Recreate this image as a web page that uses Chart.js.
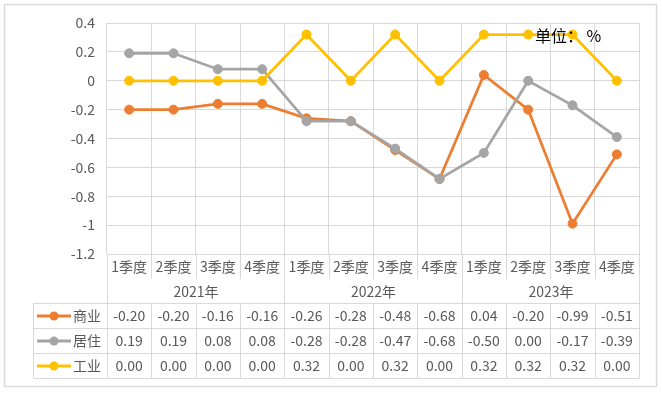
<!DOCTYPE html>
<html><head><meta charset="utf-8">
<script src="https://cdn.jsdelivr.net/npm/chart.js@4/dist/chart.umd.min.js"></script>
<style>html,body{margin:0;padding:0;background:#fff;}canvas{display:block;}</style>
</head><body>
<canvas id="c" width="662" height="393"></canvas>
<script>
const quarters = ['1季度','2季度','3季度','4季度','1季度','2季度','3季度','4季度','1季度','2季度','3季度','4季度'];
const years = ['2021年','2022年','2023年'];
const seriesNames = ['商业','居住','工业'];
const commerce = [-0.20,-0.20,-0.16,-0.16,-0.26,-0.28,-0.48,-0.68,0.04,-0.20,-0.99,-0.51];
const residence = [0.19,0.19,0.08,0.08,-0.28,-0.28,-0.47,-0.68,-0.50,0.00,-0.17,-0.39];
const industry = [0.00,0.00,0.00,0.00,0.32,0.00,0.32,0.00,0.32,0.32,0.32,0.00];
const colors = ['#ED7D31','#A5A5A5','#FFC000'];
const unitText = '单位： %';

const FONT = '"Noto Sans CJK SC", "Noto Sans", sans-serif';
const GRID = '#D9D9D9';
const TXT = '#595959';
const allSeries = [commerce, residence, industry];

const tablePlugin = {
  id: 'tablePlugin',
  beforeDraw(chart) {
    const ctx = chart.ctx;
    ctx.save();
    ctx.fillStyle = '#fff';
    ctx.fillRect(0,0,chart.width,chart.height);
    ctx.strokeStyle = '#D9D9D9';
    ctx.lineWidth = 1.5;
    ctx.strokeRect(4.5,4.5,652,382);
    ctx.restore();
  },
  afterDatasetsDraw(chart) {
    const ctx = chart.ctx;
    ctx.save();
    ctx.font = '16px ' + FONT;
    ctx.fillStyle = '#000';
    ctx.textBaseline = 'middle';
    ctx.textAlign = 'left';
    ctx.fillText(unitText, 535, 36);
    ctx.restore();
  },
  afterDraw(chart) {
    const ctx = chart.ctx;
    const x = chart.scales.x;
    const area = chart.chartArea;
    const n = quarters.length;
    const w = (area.right - area.left) / n;
    const bnd = i => Math.round(area.left + i * w) + 0.5;
    const ctr = i => x.getPixelForValue(i);
    const catTop = area.bottom, catBot = catTop + 25;
    const yearBot = catBot + 24;
    const rowH = 25;
    const tableLeft = 33.5;
    ctx.save();
    ctx.strokeStyle = GRID;
    ctx.lineWidth = 1;
    ctx.beginPath();
    // category row vertical lines
    for (let i = 0; i <= n; i++) {
      ctx.moveTo(bnd(i), catTop); ctx.lineTo(bnd(i), catBot);
    }
    // year row boundaries
    for (let g = 0; g <= years.length; g++) {
      ctx.moveTo(bnd(g*4), catBot); ctx.lineTo(bnd(g*4), yearBot);
    }
    // table grid
    for (let r = 0; r <= 3; r++) {
      const yy = Math.round(yearBot + r*rowH) + 0.5;
      ctx.moveTo(tableLeft, yy); ctx.lineTo(bnd(n), yy);
    }
    const tb = yearBot + 3*rowH;
    ctx.moveTo(tableLeft, yearBot); ctx.lineTo(tableLeft, tb);
    for (let i = 0; i <= n; i++) {
      ctx.moveTo(bnd(i), yearBot); ctx.lineTo(bnd(i), tb);
    }
    ctx.stroke();

    ctx.fillStyle = TXT;
    ctx.font = '14px ' + FONT;
    ctx.textAlign = 'center';
    ctx.textBaseline = 'middle';
    for (let i = 0; i < n; i++) ctx.fillText(quarters[i], ctr(i), catTop + 13);
    for (let g = 0; g < years.length; g++) ctx.fillText(years[g], (bnd(g*4)+bnd(g*4+4))/2, catBot + 13);
    for (let r = 0; r < 3; r++) {
      const cy = yearBot + r*rowH + rowH/2 + 0.5;
      for (let i = 0; i < n; i++) ctx.fillText(allSeries[r][i].toFixed(2), ctr(i), cy);
      // legend key
      ctx.strokeStyle = colors[r];
      ctx.lineWidth = 3;
      ctx.beginPath(); ctx.moveTo(37, cy); ctx.lineTo(71, cy); ctx.stroke();
      ctx.fillStyle = colors[r];
      ctx.beginPath(); ctx.arc(54, cy, 4.5, 0, Math.PI*2); ctx.fill();
      ctx.fillStyle = TXT;
      ctx.textAlign = 'left';
      ctx.fillText(seriesNames[r], 73, cy);
      ctx.textAlign = 'center';
    }
    ctx.restore();
  }
};

const mk = (label, data, color, order) => ({
  label, data, borderColor: color, backgroundColor: color,
  borderWidth: 2.75, pointRadius: 4.5, pointBorderWidth: 1,
  pointBackgroundColor: color, pointBorderColor: color,
  tension: 0, order, fill: false
});

new Chart(document.getElementById('c'), {
  type: 'line',
  data: {
    labels: quarters,
    datasets: [
      mk(seriesNames[0], commerce, colors[0], 3),
      mk(seriesNames[1], residence, colors[1], 2),
      mk(seriesNames[2], industry, colors[2], 1)
    ]
  },
  options: {
    responsive: false,
    animation: false,
    layout: { padding: { left: 0, top: 23, right: 23, bottom: 139 } },
    plugins: { legend: { display: false }, tooltip: { enabled: false } },
    scales: {
      x: {
        offset: true,
        grid: { offset: true, color: GRID, drawTicks: false },
        border: { display: false },
        ticks: { display: false }
      },
      y: {
        min: -1.2, max: 0.4,
        afterFit(s) { s.width = 107; },
        grid: { color: GRID, drawTicks: false },
        border: { display: false },
        ticks: {
          stepSize: 0.2, padding: 12, color: TXT,
          font: { size: 14, family: FONT },
          callback: v => String(Math.round(v*10)/10)
        }
      }
    }
  },
  plugins: [tablePlugin]
});
</script>
</body></html>
